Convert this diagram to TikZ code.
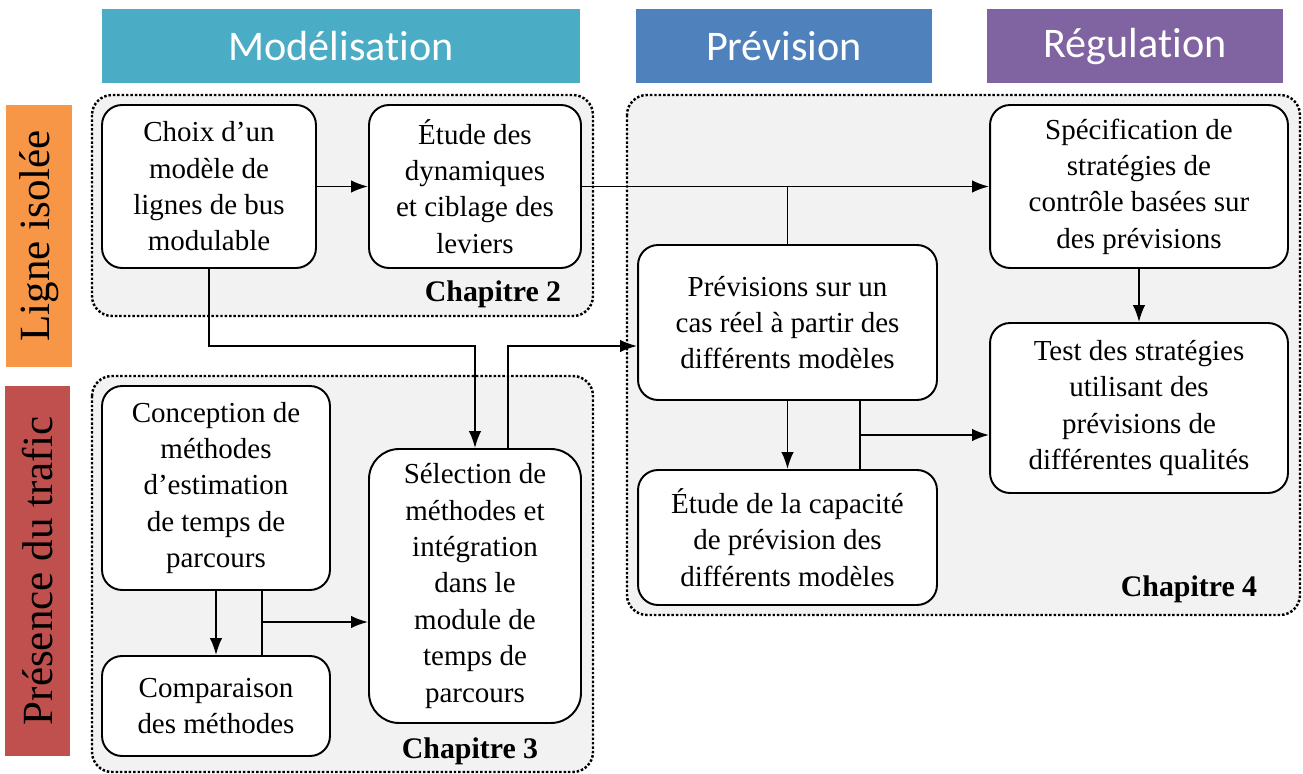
\documentclass[tikz,border=0pt]{standalone}
\usepackage{fontspec}
\setmainfont{Liberation Serif}
\newfontfamily\headfont{Carlito}[Ligatures={NoCommon,NoContextual,NoRequired}]
\usetikzlibrary{arrows.meta}

\definecolor{modcol}{HTML}{4BACC6}
\definecolor{prevcol}{HTML}{4F81BD}
\definecolor{regcol}{HTML}{8064A2}
\definecolor{lignecol}{HTML}{F79646}
\definecolor{traficcol}{HTML}{C0504D}
\definecolor{groupcol}{HTML}{F2F2F2}

\tikzset{
  head/.style={fill=#1, text=white, minimum height=1.48cm, inner sep=0pt,
    font=\headfont\fontsize{24}{28}\selectfont},
  side/.style={fill=#1, rotate=90, minimum height=1.32cm, inner sep=0pt,
    font=\fontsize{24.5}{28}\selectfont},
  group/.style={draw, fill=groupcol, line width=1.4pt, dash pattern=on 1.4pt off 1.1pt,
    rounded corners=0.4cm},
  stepbox/.style={draw, fill=white, line width=1.1pt, rounded corners=0.4cm, align=center,
    inner sep=0pt, font=\fontsize{16.5}{20.7}\selectfont},
  chap/.style={font=\bfseries\fontsize{17}{20}\selectfont, anchor=base east},
  arr/.style={-{Latex[length=0.34cm, width=0.25cm]}}
}

\begin{document}
\begin{tikzpicture}[x=0.02cm, y=-0.02cm, every path/.style={line width=1.1pt}]
  \useasboundingbox (0,0) rectangle (1303,774);

  % titres des colonnes et des lignes
  \node[head=modcol, minimum width=9.56cm] (mod) at (341,46) {Modélisat\kern0pt ion};
  \node[head=prevcol, minimum width=5.92cm] (prev) at (784,46) {Prévision};
  \node[head=regcol, minimum width=5.92cm] (reg) at (1135,46) {Régulat\kern0pt ion};
  \node[side=lignecol, minimum width=5.24cm] (ligne) at (39,236) {Ligne isolée};
  \node[side=traficcol, minimum width=7.4cm] (trafic) at (37.5,571) {Présence du trafic};

  % chapitres
  \draw[group] (92,95) rectangle (593,316);
  \draw[group] (92,376) rectangle (593,772);
  \draw[group] (627,95) rectangle (1300,615);
  \node[chap] (ch2) at (568,301) {Chapitre 2};
  \node[chap] (ch3) at (545,758) {Chapitre 3};
  \node[chap] (ch4) at (1264,596) {Chapitre 4};

  % etapes
  \node[stepbox, minimum width=4.28cm, minimum height=3.26cm] (choix) at (209,186.5)
    {Choix d'un\\modèle de\\lignes de bus\\modulable};
  \node[stepbox, minimum width=4.24cm, minimum height=3.26cm] (etude) at (475,186.5)
    {Étude des\\dynamiques\\et ciblage des\\leviers};
  \node[stepbox, minimum width=4.56cm, minimum height=4.08cm] (concep) at (216,488)
    {Conception de\\méthodes\\d'estimation\\de temps de\\parcours};
  \node[stepbox, minimum width=4.56cm, minimum height=2cm] (compar) at (216,706)
    {Comparaison\\des méthodes};
  \node[stepbox, minimum width=4.24cm, minimum height=5.48cm, rounded corners=0.6cm] (select) at (475,586)
    {Sélection de\\méthodes et\\intégration\\dans le\\module de\\temps de\\parcours};
  \node[stepbox, minimum width=5.98cm, minimum height=3.1cm] (prevreel) at (787.5,322.5)
    {Prévisions sur un\\cas réel à partir des\\différents modèles};
  \node[stepbox, minimum width=5.98cm, minimum height=2.7cm] (capac) at (787.5,537.5)
    {Étude de la capacité\\de prévision des\\différents modèles};
  \node[stepbox, minimum width=5.96cm, minimum height=3.26cm] (specif) at (1139,186.5)
    {Spécification de\\stratégies de\\contrôle basées sur\\des prévisions};
  \node[stepbox, minimum width=5.96cm, minimum height=3.4cm] (test) at (1139,408)
    {Test des stratégies\\utilisant des\\prévisions de\\différentes qualités};

  % liaisons
  \coordinate (mid) at (0,346);
  \coordinate (k1) at (860,435);
  \coordinate (k2) at (262,622);

  \draw[arr] (choix) -- (etude);
  \draw[arr] (etude.east) -- (specif.west);
  \draw (prevreel.north) -- (prevreel.north |- etude.east);
  \draw[arr] (choix.south) |- (mid -| select.north) -- (select.north);
  \draw[arr] ([xshift=0.66cm]select.north) |- (prevreel.west |- mid);
  \draw[arr] (specif) -- (test);
  \draw[arr] (prevreel) -- (capac);
  \draw (k1 |- prevreel.south) -- (k1 |- capac.north);
  \draw[arr] (k1) -- (k1 -| test.west);
  \draw[arr] (concep) -- (compar);
  \draw (k2 |- concep.south) -- (k2 |- compar.north);
  \draw[arr] (k2) -- (k2 -| select.west);
\end{tikzpicture}
\end{document}
